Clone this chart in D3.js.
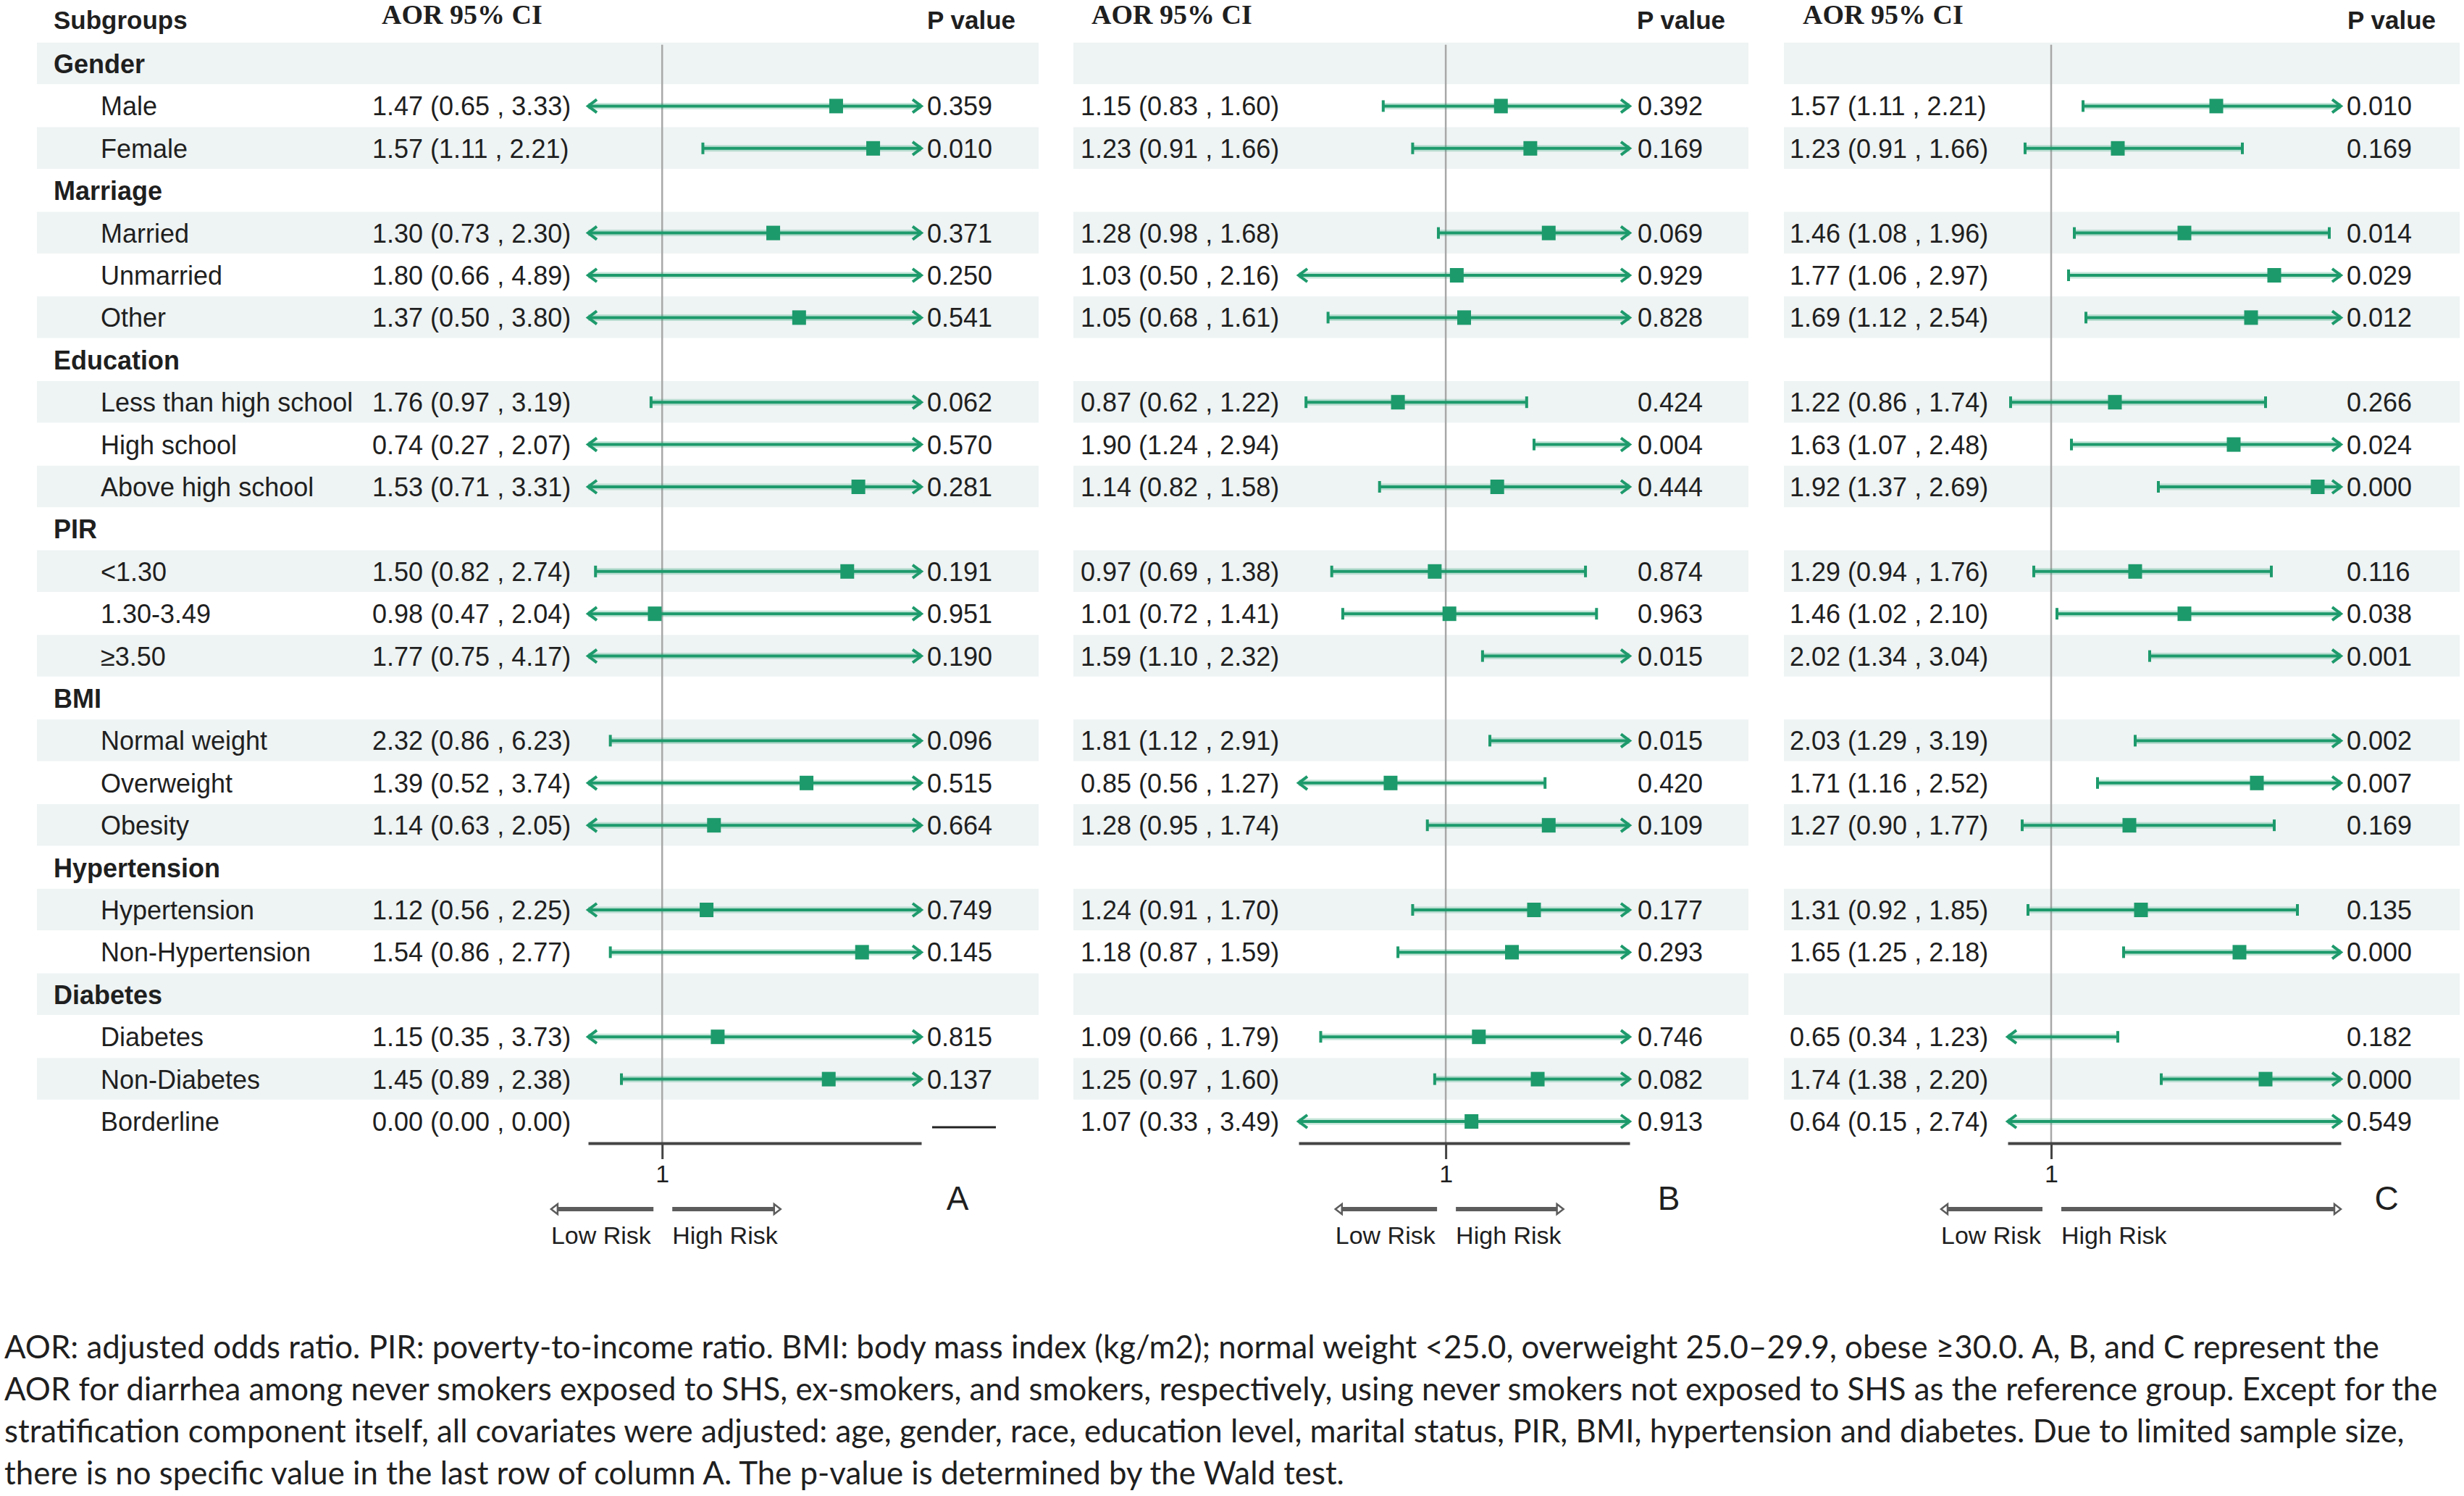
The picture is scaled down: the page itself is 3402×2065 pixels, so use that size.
<!DOCTYPE html>
<meta charset="utf-8">
<script src="https://d3js.org/d3.v7.min.js"></script>
<style>
  body { margin: 0; background: #fff; }
  text { fill: #1f1f1f; }
</style>
<div id="chart"></div>
<script>

// row labels (group headers have no data)
var subgroups = ["Gender", "Male", "Female", "Marriage", "Married", "Unmarried", "Other",
  "Education", "Less than high school", "High school", "Above high school",
  "PIR", "<1.30", "1.30-3.49", "≥3.50", "BMI", "Normal weight", "Overweight", "Obesity",
  "Hypertension", "Hypertension", "Non-Hypertension", "Diabetes", "Diabetes", "Non-Diabetes", "Borderline"];
var isGroup = [1,0,0,1,0,0,0,1,0,0,0,1,0,0,0,1,0,0,0,1,0,0,1,0,0,0];

// item rows only, in the order above
var aorA = [1.47, 1.57, 1.30, 1.80, 1.37, 1.76, 0.74, 1.53, 1.50, 0.98, 1.77, 2.32, 1.39, 1.14, 1.12, 1.54, 1.15, 1.45, 0.00];
var lowA = [0.65, 1.11, 0.73, 0.66, 0.50, 0.97, 0.27, 0.71, 0.82, 0.47, 0.75, 0.86, 0.52, 0.63, 0.56, 0.86, 0.35, 0.89, 0.00];
var highA = [3.33, 2.21, 2.30, 4.89, 3.80, 3.19, 2.07, 3.31, 2.74, 2.04, 4.17, 6.23, 3.74, 2.05, 2.25, 2.77, 3.73, 2.38, 0.00];
var pA = ["0.359", "0.010", "0.371", "0.250", "0.541", "0.062", "0.570", "0.281", "0.191", "0.951", "0.190", "0.096", "0.515", "0.664", "0.749", "0.145", "0.815", "0.137", null];

var aorB = [1.15, 1.23, 1.28, 1.03, 1.05, 0.87, 1.90, 1.14, 0.97, 1.01, 1.59, 1.81, 0.85, 1.28, 1.24, 1.18, 1.09, 1.25, 1.07];
var lowB = [0.83, 0.91, 0.98, 0.50, 0.68, 0.62, 1.24, 0.82, 0.69, 0.72, 1.10, 1.12, 0.56, 0.95, 0.91, 0.87, 0.66, 0.97, 0.33];
var highB = [1.60, 1.66, 1.68, 2.16, 1.61, 1.22, 2.94, 1.58, 1.38, 1.41, 2.32, 2.91, 1.27, 1.74, 1.70, 1.59, 1.79, 1.60, 3.49];
var pB = ["0.392", "0.169", "0.069", "0.929", "0.828", "0.424", "0.004", "0.444", "0.874", "0.963", "0.015", "0.015", "0.420", "0.109", "0.177", "0.293", "0.746", "0.082", "0.913"];

var aorC = [1.57, 1.23, 1.46, 1.77, 1.69, 1.22, 1.63, 1.92, 1.29, 1.46, 2.02, 2.03, 1.71, 1.27, 1.31, 1.65, 0.65, 1.74, 0.64];
var lowC = [1.11, 0.91, 1.08, 1.06, 1.12, 0.86, 1.07, 1.37, 0.94, 1.02, 1.34, 1.29, 1.16, 0.90, 0.92, 1.25, 0.34, 1.38, 0.15];
var highC = [2.21, 1.66, 1.96, 2.97, 2.54, 1.74, 2.48, 2.69, 1.76, 2.10, 3.04, 3.19, 2.52, 1.77, 1.85, 2.18, 1.23, 2.20, 2.74];
var pC = ["0.010", "0.169", "0.014", "0.029", "0.012", "0.266", "0.024", "0.000", "0.116", "0.038", "0.001", "0.002", "0.007", "0.169", "0.135", "0.000", "0.182", "0.000", "0.549"];

var footnote = [
  "AOR: adjusted odds ratio. PIR: poverty-to-income ratio. BMI: body mass index (kg/m2); normal weight <25.0, overweight 25.0–29.9, obese ≥30.0. A, B, and C represent the",
  "AOR for diarrhea among never smokers exposed to SHS, ex-smokers, and smokers, respectively, using never smokers not exposed to SHS as the reference group. Except for the",
  "stratification component itself, all covariates were adjusted: age, gender, race, education level, marital status, PIR, BMI, hypertension and diabetes. Due to limited sample size,",
  "there is no specific value in the last row of column A. The p-value is determined by the Wald test."
];

// layout
var W = 3402, H = 2065;
var rowY0 = 88, rowH = 58.4;
var green = "#1d9a6c", stripe = "#eef3f3";
var sans = "'Liberation Sans', Arial, sans-serif";
var serif = "'Liberation Serif', 'Times New Roman', serif";

var panels = [
  {name: "A", aor: aorA, low: lowA, high: highA, p: pA, stripe: [51, 1434], ci: 514, head: 527,
   domain: [0.8, 1.7], range: [812, 1272], pX: 1280, pHead: 1402, letter: 1322, risk: [0.7, 1.32]},
  {name: "B", aor: aorB, low: lowB, high: highB, p: pB, stripe: [1482, 2414], ci: 1492, head: 1507,
   domain: [0.6, 1.5], range: [1793, 2250], pX: 2261, pHead: 2382, letter: 2304, risk: [0.7, 1.32]},
  {name: "C", aor: aorC, low: lowC, high: highC, p: pC, stripe: [2463, 3396], ci: 2471, head: 2489,
   domain: [0.85, 2.0], range: [2772, 3232], pX: 3240, pHead: 3363, letter: 3295, risk: [0.62, 2.0]}
];

var svg = d3.select("#chart").append("svg")
  .attr("width", W).attr("height", H)
  .style("font-family", sans);

function rowY(i) { return rowY0 + i * rowH; }

// map item index -> row index
var itemRows = [];
subgroups.forEach(function(s, i) { if (!isGroup[i]) itemRows.push(i); });

// striped backgrounds
panels.forEach(function(P) {
  svg.append("g").selectAll("rect")
    .data(subgroups.filter(function(d, i) { return i % 2 == 0 && i < 25; }))
    .enter().append("rect")
      .attr("x", P.stripe[0])
      .attr("width", P.stripe[1] - P.stripe[0])
      .attr("y", function(d, k) { return rowY(k * 2) - rowH / 2; })
      .attr("height", rowH - 1)
      .attr("fill", stripe);
});

// header
svg.append("text").attr("x", 74).attr("y", 28).attr("dy", "0.35em")
  .style("font-weight", "bold").style("font-size", "35px").text("Subgroups");

// subgroup labels
svg.append("g").selectAll("text")
  .data(subgroups).enter().append("text")
    .attr("x", function(d, i) { return isGroup[i] ? 74 : 139; })
    .attr("y", function(d, i) { return rowY(i); })
    .attr("dy", "0.36em")
    .style("font-size", "36px")
    .style("font-weight", function(d, i) { return isGroup[i] ? "bold" : "normal"; })
    .text(function(d) { return d; });

panels.forEach(function(P) {
  var x = d3.scaleLinear().domain(P.domain).range(P.range);
  var g = svg.append("g");

  g.append("text").attr("x", P.head).attr("y", 20).attr("dy", "0.35em")
    .style("font-family", serif).style("font-weight", "bold").style("font-size", "38px")
    .text("AOR 95% CI");
  g.append("text").attr("x", P.pHead).attr("y", 28).attr("dy", "0.35em")
    .attr("text-anchor", "end")
    .style("font-weight", "bold").style("font-size", "35px").text("P value");

  // reference line at 1
  g.append("line")
    .attr("x1", x(1)).attr("x2", x(1))
    .attr("y1", rowY(0) - rowH / 2 + 3).attr("y2", 1578)
    .attr("stroke", "#a8a8a8").attr("stroke-width", 2.5);

  var rows = P.aor.map(function(v, k) {
    return {aor: v, low: P.low[k], high: P.high[k], p: P.p[k], y: rowY(itemRows[k])};
  });

  // CI text
  g.append("g").selectAll("text").data(rows).enter().append("text")
    .attr("x", P.ci).attr("y", function(d) { return d.y; }).attr("dy", "0.36em")
    .style("font-size", "36px")
    .text(function(d) { return d.aor.toFixed(2) + " (" + d.low.toFixed(2) + " , " + d.high.toFixed(2) + ")"; });

  // P values
  g.append("g").selectAll("text").data(rows.filter(function(d) { return d.p != null; }))
    .enter().append("text")
      .attr("x", P.pX).attr("y", function(d) { return d.y; }).attr("dy", "0.36em")
      .style("font-size", "36px")
      .text(function(d) { return d.p; });

  // missing p value dash
  rows.filter(function(d) { return d.p == null; }).forEach(function(d) {
    g.append("line").attr("x1", P.pX + 7).attr("x2", P.pX + 95)
      .attr("y1", d.y + 8).attr("y2", d.y + 8)
      .attr("stroke", "#222").attr("stroke-width", 3);
  });

  var d0 = P.domain[0], d1 = P.domain[1];
  var ci = g.append("g").selectAll("g")
    .data(rows.filter(function(d) { return d.p != null; }))
    .enter().append("g");

  ci.append("line")
    .attr("x1", function(d) { return x(Math.max(d.low, d0)); })
    .attr("x2", function(d) { return x(Math.min(d.high, d1)); })
    .attr("y1", function(d) { return d.y; }).attr("y2", function(d) { return d.y; })
    .attr("stroke", green).attr("stroke-opacity", 0.25).attr("stroke-width", 9);
  ci.append("line")
    .attr("x1", function(d) { return x(Math.max(d.low, d0)); })
    .attr("x2", function(d) { return x(Math.min(d.high, d1)); })
    .attr("y1", function(d) { return d.y; }).attr("y2", function(d) { return d.y; })
    .attr("stroke", green).attr("stroke-width", 4);

  // ends: arrow if clipped, bar otherwise
  ci.append("path")
    .attr("d", function(d) {
      var xs = x(Math.max(d.low, d0)), y = d.y;
      if (d.low < d0) return "M" + (xs + 12) + "," + (y - 9) + "L" + xs + "," + y + "L" + (xs + 12) + "," + (y + 9);
      return "M" + xs + "," + (y - 8) + "L" + xs + "," + (y + 8);
    })
    .attr("fill", "none").attr("stroke", green).attr("stroke-width", 4);
  ci.append("path")
    .attr("d", function(d) {
      var xe = x(Math.min(d.high, d1)), y = d.y;
      if (d.high > d1) return "M" + (xe - 12) + "," + (y - 9) + "L" + xe + "," + y + "L" + (xe - 12) + "," + (y + 9);
      return "M" + xe + "," + (y - 8) + "L" + xe + "," + (y + 8);
    })
    .attr("fill", "none").attr("stroke", green).attr("stroke-width", 4);

  // point estimate
  ci.filter(function(d) { return d.aor >= d0 && d.aor <= d1; })
    .append("rect")
      .attr("x", function(d) { return x(d.aor) - 9.5; })
      .attr("y", function(d) { return d.y - 10; })
      .attr("width", 19).attr("height", 20)
      .attr("fill", green);

  // axis
  var ax = g.append("g")
    .attr("transform", "translate(0,1578)")
    .call(d3.axisBottom(x).tickValues([1]).tickSize(22).tickSizeOuter(0).tickFormat(d3.format("d")));
  ax.select(".domain").attr("stroke", "#444").attr("stroke-width", 4);
  ax.selectAll(".tick line").attr("stroke", "#444").attr("stroke-width", 3);
  ax.selectAll(".tick text").attr("y", 30).attr("fill", "#1f1f1f")
    .style("font-size", "34px").style("font-family", sans);

  // panel letter
  g.append("text").attr("x", P.letter).attr("y", 1653).attr("dy", "0.36em")
    .attr("text-anchor", "middle").style("font-size", "46px").text(P.name);

  // risk arrows
  var ay = 1669;
  var riskArrows = [
    {x1: x(1) - 12, x2: x(P.risk[0])},
    {x1: x(1) + 14, x2: x(P.risk[1])}
  ];
  riskArrows.forEach(function(a) {
    var dir = a.x2 > a.x1 ? 1 : -1;
    g.append("line").attr("x1", a.x1).attr("x2", a.x2 - dir * 7)
      .attr("y1", ay).attr("y2", ay)
      .attr("stroke", "#5c5c5c").attr("stroke-width", 6);
    g.append("path")
      .attr("d", "M" + a.x2 + "," + ay + "L" + (a.x2 - dir * 9) + "," + (ay - 7) + "L" + (a.x2 - dir * 9) + "," + (ay + 7) + "Z")
      .attr("fill", "#fff").attr("stroke", "#5c5c5c").attr("stroke-width", 2.5);
  });
  g.append("text").attr("x", x(P.risk[0])).attr("y", 1705).attr("dy", "0.36em")
    .style("font-size", "34px").text("Low Risk");
  g.append("text").attr("x", x(1) + 14).attr("y", 1705).attr("dy", "0.36em")
    .style("font-size", "34px").text("High Risk");
});

// footnote, sized so the longest line fits the page width
var foot = svg.append("g").style("font-family", "Lato, 'Open Sans', sans-serif");
var lines = foot.selectAll("text").data(footnote).enter().append("text")
  .attr("x", 6)
  .attr("y", function(d, i) { return 1875 + i * 58; })
  .style("font-size", "40px")
  .text(function(d) { return d; });
var w1 = lines.nodes()[1].getComputedTextLength();
var fs = 40 * 3360 / w1;
lines.style("font-size", fs + "px");

</script>
